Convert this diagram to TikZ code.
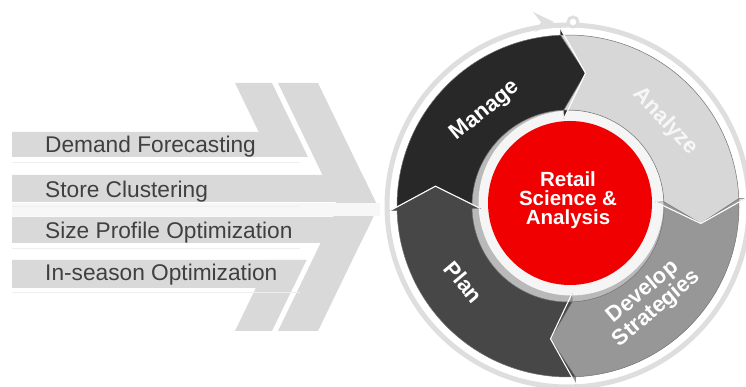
\documentclass[tikz,border=0pt]{standalone}
\usepackage{fontspec}
\setmainfont{Liberation Sans}
\definecolor{bandgray}{HTML}{D9D9D9}
\definecolor{txtgray}{HTML}{404040}
\definecolor{mancol}{HTML}{282828}
\definecolor{anacol}{HTML}{D7D7D7}
\definecolor{devcol}{HTML}{979797}
\definecolor{placol}{HTML}{474747}
\definecolor{ringgray}{HTML}{DEDEDE}
\definecolor{retred}{HTML}{F00000}
\newcommand\ringseg[3]{%
  \fill[#3, draw=black!55, line width=0.5pt] (#1:171) arc[start angle=#1, end angle=#2, radius=171]
    -- (#2:178) -- ({#2-10}:134) -- (#2:88) -- (#2:96)
    arc[start angle=#2, end angle=#1, radius=96] -- ({#1-10}:134) -- cycle;}
\newcommand\ringhead[1]{%
  \draw[white, line width=1.1pt] (#1:178) -- ({#1-10}:134) -- (#1:88);}
\tikzset{
  listtext/.style={anchor=base west, text=txtgray, inner sep=0pt, font=\fontsize{22.7}{26}\selectfont},
  segtext/.style={white, align=center, inner sep=0pt, font=\bfseries\fontsize{22}{20}\selectfont},
  ctext/.style={align=center, inner sep=0pt, font=\bfseries\fontsize{20.5}{19}\selectfont},
}
\begin{document}
\begin{tikzpicture}[x=1pt,y=1pt]
\useasboundingbox (0,0) rectangle (746,387);
% left double chevron
\fill[bandgray] (278,304) -- (318,304) -- (378,180) -- (318,56) -- (278,56) -- (338,180) -- cycle;
\fill[bandgray] (235,304) -- (272,304) -- (307.8,230) -- (270.8,230) -- cycle;
\fill[bandgray] (235,56) -- (272,56) -- (306.4,127) -- (269.4,127) -- cycle;
% bands
\fill[bandgray] (12,230) -- (307.8,230) -- (295.7,255) -- (12,255) -- cycle;
\fill[bandgray] (12,185) -- (375.6,185) -- (362.5,212) -- (12,212) -- cycle;
\fill[bandgray] (12,144) -- (360.6,144) -- (373.2,170) -- (12,170) -- cycle;
\fill[bandgray] (12,99) -- (292.8,99) -- (306.4,127) -- (12,127) -- cycle;
\fill[gray!6] (12,171) rectangle (380,184);
\foreach \yy in {225,181,139,95} \draw[gray!13, line width=0.7pt] (12,\yy) -- (300,\yy);
% list text
\node[listtext] (t1) at (45,234) {Demand Forecasting};
\node[listtext] (t2) at (45,189) {Store Clustering};
\node[listtext] (t3) at (45,148) {Size Profile Optimization};
\node[listtext] (t4) at (45,106) {In-season Optimization};
% cycle
\begin{scope}[shift={(568,181)}]
  \draw[ringgray, line width=5pt] (0,0) circle[radius=181];
  \fill[ringgray] (-35,194) -- (-14,184) -- (-33,174) -- (-27,184) -- cycle;
  \draw[ringgray, line width=3pt, fill=white] (5,184) circle[radius=5];
  \fill[gray!55] (0,0) circle[radius=97];
  \fill[white!92!gray] (3,3) circle[radius=92.5];
  \ringseg{181.5}{92.5}{mancol}
  \ringseg{92.5}{2.5}{anacol}
  \ringseg{2.5}{-87.5}{devcol}
  \ringseg{272.5}{181.5}{placol}
  \ringhead{92.5}
  \ringhead{2.5}
  \ringhead{-87.5}
  \ringhead{181.5}
  \fill[retred] (2,3) circle[radius=82];
  \node[segtext, rotate=39] (manage) at (131:126) {Manage};
  \node[segtext, text=gray!6, rotate=-47] (analyze) at (41:129) {Analyze};
  \node[segtext, rotate=40] (develop) at (-49:125) {Develop\\Strategies};
  \node[segtext, rotate=-50] (plan) at (216:129) {Plan};
  \node[ctext, text=white] (rsa) at (0,6) {Retail\\Science \&\\Analysis};
\end{scope}
\end{tikzpicture}
\end{document}
